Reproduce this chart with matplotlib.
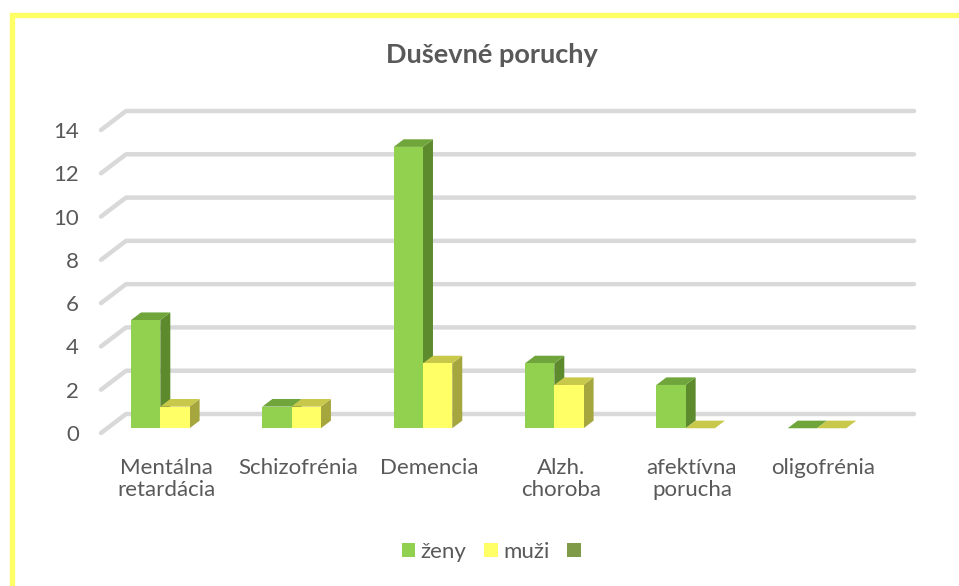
import numpy as np
import matplotlib
matplotlib.use("Agg")
import matplotlib.pyplot as plt
from matplotlib.patches import Polygon, Patch
from matplotlib.lines import Line2D

plt.rcParams['font.family'] = ['Lato', 'DejaVu Sans']

# data
categories = ["Mentálna\nretardácia", "Schizofrénia", "Demencia",
              "Alzh.\nchoroba", "afektívna\nporucha", "oligofrénia"]
zeny = [5, 1, 13, 3, 2, 0]
muzi = [1, 1, 3, 2, 0, 0]
series_names = ["ženy", "muži", ""]
y_ticks = [0, 2, 4, 6, 8, 10, 12, 14]
title = "Duševné poruchy"

# farby
TXT = "#595959"
GRID = "#d9d9d9"
colors = {
    "zeny": ("#92D050", "#6FA53A", "#5E8A2E"),   # predná, vrch, bok
    "muzi": ("#FFFF66", "#C8C84A", "#A6A63E"),
}
third_color = "#7F9B47"

W, H = 959, 586
fig = plt.figure(figsize=(W / 100, H / 100), dpi=100)

# predná rovina osi: x od 101 px po 889 px, y=0 na 433 px, 14 na 130 px
left_px, right_px = 101, 889
y0_px, y14_px = 433, 130
ax = fig.add_axes([left_px / W, (H - y0_px) / H,
                   (right_px - left_px) / W, (y0_px - y14_px) / H])
ax.set_xlim(0, 6)
ax.set_ylim(0, 14)
for s in ax.spines.values():
    s.set_visible(False)

# hĺbka 3D (v dátových jednotkách)
DX = 25 / 131.3
DY = 19 / ((y0_px - y14_px) / 14)

# mriežka - šikmá časť + vodorovná zadná stena
for v in y_ticks:
    ax.plot([0, DX, 6 + DX], [v, v + DY, v + DY], color=GRID, lw=3.2,
            solid_capstyle='round', solid_joinstyle='round',
            clip_on=False, zorder=1)

# stĺpce
f0 = 0.25        # poloha stĺpcov v hĺbke
fd = 0.4         # hĺbka stĺpca
bw = 0.223       # šírka jedného stĺpca
off = 0.181
bdx, bdy = fd * DX, fd * DY


def draw_bar(x, h, cols):
    front, top, side = cols
    xb = x + f0 * DX
    yb = f0 * DY
    # bok
    ax.add_patch(Polygon([(xb + bw, yb), (xb + bw + bdx, yb + bdy),
                          (xb + bw + bdx, yb + bdy + h), (xb + bw, yb + h)],
                         closed=True, fc=side, ec='none', clip_on=False, zorder=3))
    # vrch
    ax.add_patch(Polygon([(xb, yb + h), (xb + bw, yb + h),
                          (xb + bw + bdx, yb + h + bdy), (xb + bdx, yb + h + bdy)],
                         closed=True, fc=top, ec='none', clip_on=False, zorder=3))
    # predná strana
    if h > 0:
        ax.add_patch(Polygon([(xb, yb), (xb + bw, yb), (xb + bw, yb + h), (xb, yb + h)],
                             closed=True, fc=front, ec='none', clip_on=False, zorder=3))


for i in range(len(categories)):
    draw_bar(i + off, zeny[i], colors["zeny"])
    draw_bar(i + off + bw, muzi[i], colors["muzi"])

# osi
ax.set_yticks(y_ticks)
ax.set_yticklabels([str(t) for t in y_ticks], fontsize=16, color=TXT)
ax.set_xticks(np.arange(len(categories)) + 0.5)
ax.set_xticklabels(categories, fontsize=16, color=TXT, linespacing=1.12)
ax.tick_params(axis='y', length=0, pad=16)
ax.tick_params(axis='x', length=0, pad=18)

fig.text(492 / W, 1 - 55 / H, title, ha='center', va='center',
         fontsize=19.5, fontweight='bold', color=TXT)

# legenda
handles = [Patch(fc=colors["zeny"][0]), Patch(fc=colors["muzi"][0]), Patch(fc=third_color)]
leg = fig.legend(handles, series_names, loc='center', bbox_to_anchor=(494 / W, 1 - 552 / H),
                 ncol=3, frameon=False, fontsize=16, handlelength=0.6, handleheight=0.6,
                 handletextpad=0.25, columnspacing=0.8, borderaxespad=0)
for t in leg.get_texts():
    t.set_color(TXT)

# žltý rámik (orezaný vpravo a dole)
fig.add_artist(Line2D([12 / W, 12 / W, 1.05], [-0.05, 1 - 15 / H, 1 - 15 / H],
                      transform=fig.transFigure, color="#FFFF66", lw=3.8,
                      solid_joinstyle='miter'))

fig.savefig("out.png", dpi=100)
